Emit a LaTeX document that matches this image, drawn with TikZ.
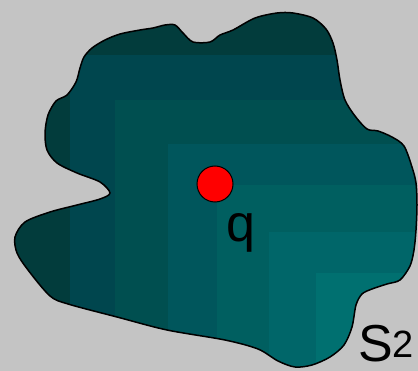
\documentclass[tikz,border=0pt]{standalone}
\usepackage{fontspec}
\setmainfont{Liberation Sans}

\definecolor{bgGray}{HTML}{C4C4C4}
\definecolor{bandA}{HTML}{023C3C}
\definecolor{bandB}{HTML}{00464E}
\definecolor{bandC}{HTML}{004F50}
\definecolor{bandD}{HTML}{00565C}
\definecolor{bandE}{HTML}{005F60}
\definecolor{bandF}{HTML}{006669}
\definecolor{bandG}{HTML}{007070}

% outline of the region S2 (pixel coordinates, y downwards)
\newcommand{\regionPath}{plot[smooth cycle,tension=0.5] coordinates {
  (175,25) (165,25) (153,28) (140,30) (120,34) (105,40) (92,48) (84,57)
  (80,68) (76,82) (67,95) (56,101) (48,115) (45,133) (47,150) (57,163)
  (77,173) (100,182) (110,193) (100,199) (77,205) (50,212) (25,222)
  (15,237) (17,253) (28,270) (50,296) (68,304) (117,317) (167,330)
  (225,340) (258,349) (278,361) (295,367) (312,365) (330,357) (344,345)
  (352,327) (356,305) (362,294) (372,289) (387,284) (400,280) (410,266)
  (414,250) (416,230) (417,205) (416,183) (412,167) (404,146) (392,137)
  (378,131) (367,129) (355,116) (345,100) (340,80) (337,60) (333,43)
  (326,29) (313,18) (293,13) (277,13) (255,18) (233,30) (220,35)
  (210,42) (193,42) (183,33)}}

\begin{document}
\begin{tikzpicture}[x=1pt,y=-1pt,
  lbl/.style={anchor=base west,inner sep=0pt,font=\fontsize{52}{60}\selectfont}]
  \fill[bgGray] (0,0) rectangle (418,371);
  \useasboundingbox (0,0) rectangle (418,371);
  % shaded bands
  \begin{scope}
    \clip \regionPath;
    \fill[bandA] (0,0) rectangle (418,371);
    \fill[bandB] (70,55) rectangle (418,371);
    \fill[bandC] (115,100) rectangle (418,371);
    \fill[bandD] (168,144) rectangle (418,371);
    \fill[bandE] (217,185) rectangle (418,371);
    \fill[bandF] (269,232) rectangle (418,371);
    \fill[bandG] (316,273) rectangle (418,371);
  \end{scope}
  \draw[line width=1.5pt] \regionPath;
  \node[circle,draw,fill=red,line width=1pt,minimum size=36pt,inner sep=0pt] (qdot) at (215,184) {};
  \node[lbl] (qlabel) at (226,242) {q};
  \node[lbl] (slabel) at (358,362) {S\raisebox{4pt}{\fontsize{38}{44}\selectfont 2}};
\end{tikzpicture}
\end{document}
